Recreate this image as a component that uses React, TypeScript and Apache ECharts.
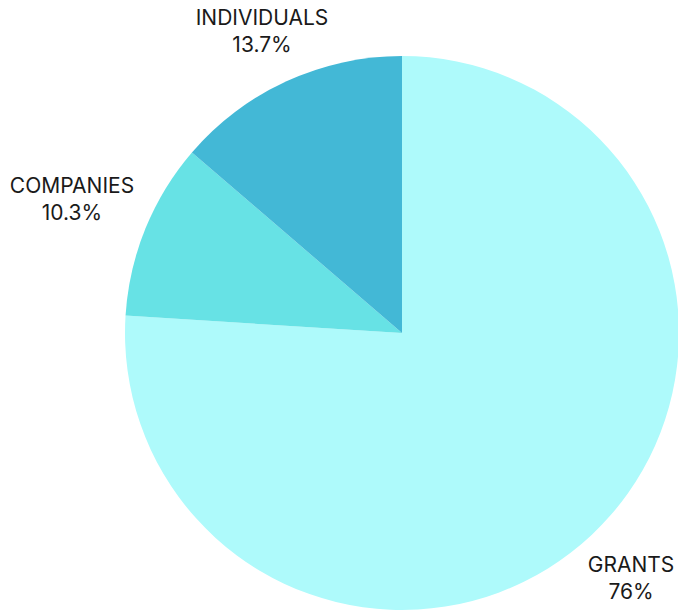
import React, { useEffect, useRef } from "react";
import * as echarts from "echarts";

const categories = ["GRANTS", "COMPANIES", "INDIVIDUALS"];
const values = [76, 10.3, 13.7];
const colors = ["#AEFAFB", "#67E2E5", "#43B8D6"];
const labelPositions = [
  [631, 578],
  [72, 199],
  [262, 31],
];

export default function App() {
  const ref = useRef<HTMLDivElement>(null);
  useEffect(() => {
    document.body.style.margin = "0";
    const chart = echarts.init(ref.current!, null, { renderer: "svg" });
    chart.setOption({
      animation: false,
      backgroundColor: "#ffffff",
      series: [
        {
          type: "pie",
          center: [402, 333],
          radius: [0, 277],
          startAngle: 90,
          clockwise: true,
          label: {
            show: true,
            position: "outside",
            formatter: (p: any) => `${p.name}\n${p.value}%`,
            fontFamily: "Inter",
            fontSize: 21,
            lineHeight: 27,
            color: "#1a1a1a",
            align: "center",
            overflow: "none",
            width: 220,
          },
          labelLine: { show: false },
          labelLayout: (params: any) => {
            const pos = labelPositions[params.dataIndex];
            return { x: pos[0], y: pos[1], align: "center", verticalAlign: "middle" };
          },
          itemStyle: { borderWidth: 0 },
          emphasis: { disabled: true },
          data: categories.map((c, i) => ({
            name: c,
            value: values[i],
            itemStyle: { color: colors[i] },
          })),
        },
      ],
    });
    return () => chart.dispose();
  }, []);
  return <div ref={ref} style={{ width: 678, height: 613 }} />;
}
